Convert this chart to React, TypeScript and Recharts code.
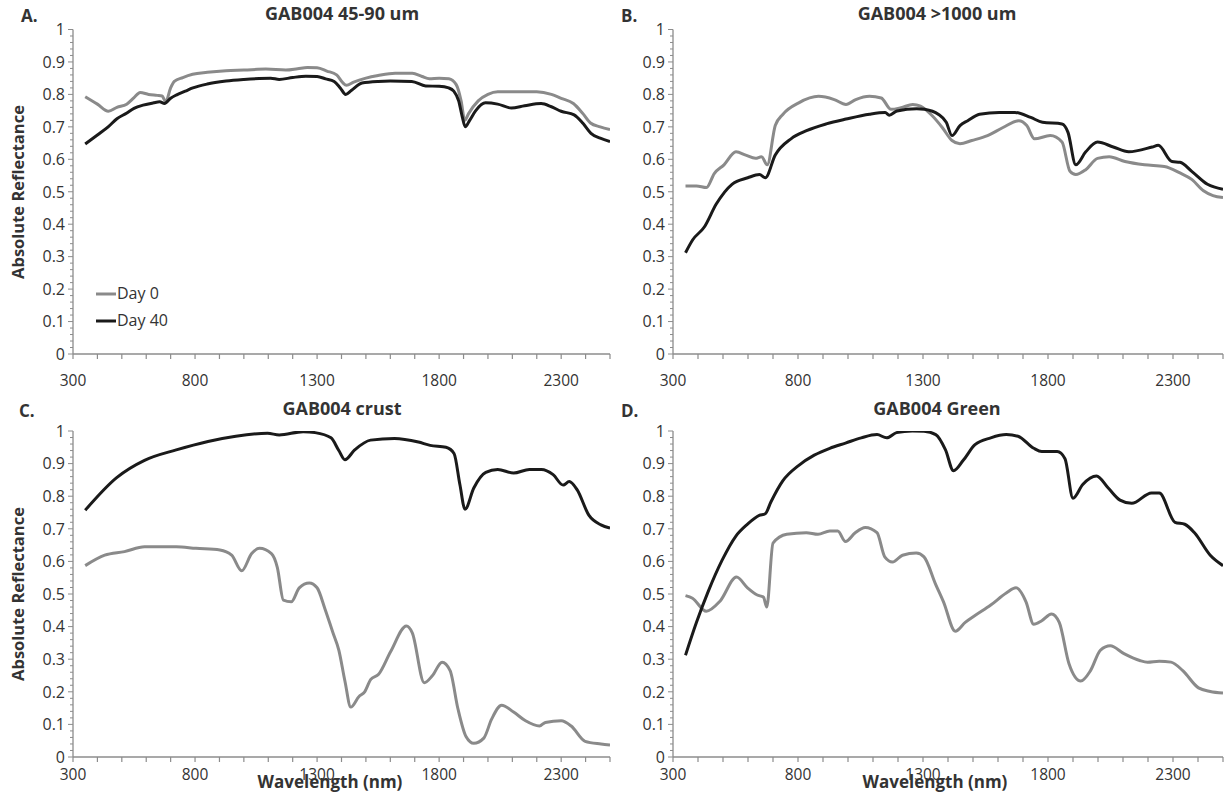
import React from 'react';
import { LineChart, Line, XAxis, YAxis, Legend } from 'recharts';

const FONT = '"Open Sans", "Liberation Sans", sans-serif';
const AXIS = '#8c8c8c';
const TEXT = '#333333';
const GRAY = '#8a8a8a';
const BLACK = '#1a1a1a';

const xTicks = [300, 400, 500, 600, 700, 800, 900, 1000, 1100, 1200, 1300, 1400, 1500, 1600, 1700, 1800, 1900, 2000, 2100, 2200, 2300, 2400, 2500];
const xLabels = [300, 800, 1300, 1800, 2300];
const yLabels = [0, 0.1, 0.2, 0.3, 0.4, 0.5, 0.6, 0.7, 0.8, 0.9, 1];
const yTicks = Array.from({ length: 51 }, (_, i) => i / 50);

const seriesNames = ['Day 0', 'Day 40'];

// Panel A: GAB004 45-90 um
const aDay0 = [[350,0.793],[400,0.77],[445,0.748],[480,0.76],[520,0.77],[550,0.79],[575,0.806],[610,0.8],[645,0.797],[665,0.795],[680,0.778],[700,0.82],[715,0.84],[750,0.852],[790,0.862],[850,0.868],[927,0.873],[1000,0.875],[1090,0.878],[1172,0.875],[1220,0.879],[1260,0.883],[1300,0.882],[1340,0.872],[1380,0.86],[1405,0.836],[1420,0.828],[1450,0.838],[1500,0.85],[1550,0.858],[1620,0.865],[1690,0.865],[1730,0.855],[1760,0.848],[1800,0.85],[1840,0.848],[1870,0.83],[1890,0.78],[1905,0.72],[1920,0.74],[1960,0.78],[2000,0.8],[2040,0.808],[2100,0.808],[2200,0.808],[2260,0.8],[2300,0.788],[2350,0.772],[2390,0.74],[2420,0.712],[2460,0.7],[2500,0.692]];
const aDay40 = [[350,0.647],[400,0.675],[444,0.7],[480,0.725],[519,0.742],[550,0.757],[587,0.767],[630,0.774],[655,0.777],[675,0.772],[700,0.788],[723,0.798],[760,0.81],[791,0.82],[850,0.832],[927,0.841],[1000,0.846],[1063,0.849],[1110,0.85],[1145,0.846],[1200,0.852],[1254,0.856],[1300,0.855],[1335,0.848],[1370,0.84],[1395,0.82],[1417,0.8],[1440,0.812],[1484,0.835],[1550,0.84],[1600,0.841],[1688,0.84],[1745,0.826],[1800,0.825],[1839,0.82],[1860,0.81],[1880,0.78],[1895,0.73],[1907,0.7],[1925,0.72],[1950,0.75],[1990,0.774],[2040,0.77],[2096,0.758],[2150,0.765],[2218,0.772],[2260,0.762],[2300,0.748],[2353,0.737],[2390,0.71],[2422,0.68],[2460,0.665],[2500,0.655]];

// Panel B: GAB004 >1000 um
const bDay0 = [[350,0.518],[394,0.518],[434,0.513],[465,0.556],[504,0.583],[552,0.623],[591,0.613],[630,0.603],[654,0.608],[677,0.583],[709,0.704],[740,0.739],[803,0.774],[882,0.794],[945,0.784],[992,0.769],[1031,0.784],[1086,0.794],[1133,0.789],[1172,0.754],[1212,0.759],[1259,0.769],[1290,0.764],[1337,0.734],[1377,0.698],[1416,0.658],[1448,0.648],[1495,0.658],[1558,0.673],[1620,0.698],[1683,0.719],[1715,0.704],[1746,0.663],[1809,0.673],[1856,0.653],[1888,0.563],[1911,0.553],[1951,0.568],[1998,0.603],[2045,0.608],[2108,0.593],[2186,0.583],[2265,0.578],[2328,0.558],[2375,0.538],[2422,0.503],[2460,0.488],[2500,0.482]];
const bDay40 = [[350,0.312],[379,0.352],[426,0.392],[473,0.462],[536,0.523],[599,0.543],[646,0.553],[669,0.543],[709,0.613],[772,0.663],[834,0.688],[913,0.709],[992,0.724],[1086,0.739],[1149,0.744],[1165,0.736],[1196,0.749],[1275,0.756],[1306,0.754],[1361,0.739],[1393,0.714],[1416,0.673],[1448,0.704],[1479,0.719],[1526,0.739],[1605,0.744],[1668,0.744],[1731,0.729],[1778,0.714],[1856,0.709],[1880,0.683],[1911,0.583],[1951,0.623],[1998,0.653],[2061,0.638],[2123,0.623],[2217,0.638],[2241,0.643],[2296,0.593],[2328,0.591],[2375,0.563],[2438,0.523],[2500,0.508]];

// Panel C: GAB004 crust
const cDay0 = [[350,0.587],[430,0.619],[511,0.63],[593,0.645],[723,0.645],[804,0.64],[902,0.635],[950,0.619],[991,0.571],[1032,0.624],[1064,0.64],[1113,0.624],[1137,0.582],[1162,0.481],[1194,0.476],[1227,0.519],[1268,0.534],[1300,0.519],[1332,0.455],[1365,0.381],[1389,0.328],[1414,0.233],[1438,0.153],[1471,0.185],[1495,0.2],[1520,0.238],[1552,0.254],[1601,0.323],[1666,0.402],[1690,0.381],[1739,0.228],[1772,0.249],[1812,0.291],[1845,0.265],[1877,0.148],[1910,0.063],[1942,0.042],[1983,0.058],[2015,0.116],[2056,0.159],[2105,0.138],[2154,0.111],[2211,0.095],[2235,0.106],[2300,0.111],[2341,0.095],[2398,0.048],[2463,0.04],[2500,0.037]];
const cDay40 = [[350,0.757],[479,0.857],[593,0.91],[723,0.942],[853,0.968],[967,0.984],[1097,0.993],[1145,0.988],[1243,0.998],[1292,0.995],[1357,0.979],[1389,0.94],[1414,0.912],[1454,0.942],[1519,0.972],[1617,0.977],[1715,0.966],[1763,0.956],[1828,0.95],[1861,0.931],[1885,0.836],[1906,0.76],[1942,0.825],[1991,0.873],[2040,0.882],[2105,0.871],[2170,0.882],[2219,0.882],[2267,0.866],[2308,0.834],[2333,0.845],[2365,0.82],[2414,0.741],[2463,0.712],[2500,0.702]];

// Panel D: GAB004 Green
const dDay0 = [[350,0.495],[378,0.487],[433,0.447],[488,0.478],[554,0.552],[598,0.519],[637,0.497],[662,0.49],[675,0.46],[700,0.656],[755,0.683],[833,0.688],[880,0.683],[927,0.693],[959,0.693],[990,0.661],[1029,0.688],[1069,0.704],[1116,0.688],[1147,0.614],[1178,0.598],[1218,0.619],[1273,0.626],[1304,0.614],[1351,0.529],[1382,0.476],[1429,0.386],[1469,0.413],[1508,0.434],[1571,0.466],[1633,0.503],[1672,0.519],[1712,0.476],[1743,0.407],[1775,0.418],[1814,0.439],[1845,0.413],[1884,0.286],[1931,0.233],[1970,0.265],[2010,0.328],[2049,0.341],[2104,0.317],[2167,0.296],[2198,0.291],[2245,0.294],[2292,0.291],[2339,0.265],[2402,0.212],[2449,0.201],[2500,0.196]];
const dDay40 = [[350,0.312],[394,0.413],[441,0.508],[496,0.603],[551,0.677],[598,0.714],[645,0.741],[669,0.746],[692,0.783],[739,0.847],[802,0.894],[865,0.926],[927,0.947],[990,0.963],[1053,0.979],[1116,0.989],[1155,0.979],[1194,0.995],[1257,1.0],[1304,0.999],[1351,0.989],[1390,0.942],[1422,0.878],[1461,0.91],[1508,0.958],[1571,0.979],[1633,0.989],[1680,0.984],[1743,0.947],[1775,0.937],[1837,0.937],[1868,0.915],[1900,0.794],[1939,0.836],[1994,0.862],[2041,0.825],[2088,0.788],[2135,0.778],[2214,0.81],[2245,0.81],[2308,0.72],[2347,0.714],[2386,0.688],[2449,0.619],[2500,0.587]];

const toRows = (pairs: number[][]) => pairs.map(([w, r]) => ({ w, r }));

const makeXTick = (labelDy: number) => (props: any) => {
  const { x, y, payload } = props;
  const v = payload.value;
  const show = xLabels.includes(v);
  return (
    <g>
      <line x1={x} x2={x} y1={y} y2={y + 5} stroke={AXIS} strokeWidth={1.2} />
      {show && (
        <text x={x} y={y + labelDy} textAnchor="middle" fontSize={15.5} fontFamily={FONT} fill={TEXT}>
          {v}
        </text>
      )}
    </g>
  );
};

const YTick = (props: any) => {
  const { x, y, payload } = props;
  const v = payload.value;
  const idx = Math.round(v * 50);
  const major = idx % 5 === 0;
  const label = yLabels.find((l) => Math.abs(l - v) < 1e-6);
  return (
    <g>
      <line x1={x - (major ? 5 : 3)} x2={x} y1={y} y2={y} stroke={AXIS} strokeWidth={1} />
      {major && label !== undefined && (
        <text x={x - 8} y={y} dy="0.36em" textAnchor="end" fontSize={16} fontFamily={FONT} fill={TEXT}>
          {String(label)}
        </text>
      )}
    </g>
  );
};

const LegendBox = () => (
  <div style={{ fontFamily: FONT, fontSize: 16, color: TEXT, lineHeight: '27px' }}>
    {seriesNames.map((n, i) => (
      <div key={n} style={{ display: 'flex', alignItems: 'center' }}>
        <svg width={20} height={6} style={{ marginRight: 1 }}>
          <line x1={0} x2={20} y1={3} y2={3} stroke={i === 0 ? GRAY : BLACK} strokeWidth={3} />
        </svg>
        <span>{n}</span>
      </div>
    ))}
  </div>
);

type PanelProps = {
  left: number;
  top: number;
  width: number;
  height: number;
  margin: { top: number; right: number; bottom: number; left: number };
  day0: number[][];
  day40: number[][];
  labelDy: number;
  legend?: boolean;
};

const Panel = ({ left, top, width, height, margin, day0, day40, labelDy, legend }: PanelProps) => {
  const XTick = makeXTick(labelDy);
  return (
    <div style={{ position: 'absolute', left, top, width, height }}>
      <LineChart width={width} height={height} margin={margin}>
        <XAxis
          type="number"
          dataKey="w"
          domain={[300, 2500]}
          ticks={xTicks}
          interval={0}
          tick={<XTick />}
          tickSize={0}
          tickMargin={0}
          tickLine={false}
          axisLine={{ stroke: AXIS, strokeWidth: 1.3 }}
          height={30}
          allowDataOverflow
        />
        <YAxis
          type="number"
          domain={[0, 1]}
          ticks={yTicks}
          interval={0}
          tick={<YTick />}
          tickSize={0}
          tickMargin={0}
          tickLine={false}
          axisLine={{ stroke: AXIS, strokeWidth: 1.3 }}
          width={40}
          allowDataOverflow
        />
        {legend && (
          <Legend
            layout="vertical"
            align="center"
            verticalAlign="middle"
            content={<LegendBox />}
            wrapperStyle={{ left: 96, top: 280, width: 100, height: 60 }}
          />
        )}
        <Line
          data={toRows(day0)}
          dataKey="r"
          name={seriesNames[0]}
          type="monotone"
          stroke={GRAY}
          strokeWidth={3}
          dot={false}
          isAnimationActive={false}
        />
        <Line
          data={toRows(day40)}
          dataKey="r"
          name={seriesNames[1]}
          type="monotone"
          stroke={BLACK}
          strokeWidth={3}
          dot={false}
          isAnimationActive={false}
        />
      </LineChart>
    </div>
  );
};

const abs = (left: number, top: number, extra: React.CSSProperties = {}): React.CSSProperties => ({
  position: 'absolute',
  left,
  top,
  fontFamily: FONT,
  color: TEXT,
  whiteSpace: 'nowrap',
  ...extra,
});

const Title = ({ cx, cy, text }: { cx: number; cy: number; text: string }) => (
  <div style={abs(cx - 150, cy - 12, { width: 300, textAlign: 'center', fontWeight: 700, fontSize: 18, lineHeight: '24px' })}>
    {text}
  </div>
);

const YLabel = ({ cx, cy }: { cx: number; cy: number }) => (
  <div
    style={abs(cx - 110, cy - 12, {
      width: 220,
      textAlign: 'center',
      fontWeight: 700,
      fontSize: 16.5,
      lineHeight: '24px',
      transform: 'rotate(-90deg)',
    })}
  >
    Absolute Reflectance
  </div>
);

const XLabel = ({ cx, cy }: { cx: number; cy: number }) => (
  <div style={abs(cx - 110, cy - 10, { width: 220, textAlign: 'center', fontWeight: 700, fontSize: 17, lineHeight: '20px' })}>
    Wavelength (nm)
  </div>
);

const Letter = ({ x, cy, text }: { x: number; cy: number; text: string }) => (
  <div style={abs(x, cy - 12, { fontWeight: 700, fontSize: 17, lineHeight: '24px' })}>{text}</div>
);

export default function App() {
  return (
    <div style={{ position: 'absolute', left: 0, top: 0, width: 1226, height: 794, background: '#fff', overflow: 'hidden' }}>
      <Panel left={0} top={0} width={620} height={400} margin={{ top: 29.5, right: 10, bottom: 16, left: 33 }} day0={aDay0} day40={aDay40} labelDy={32} legend />
      <Panel left={620} top={0} width={606} height={400} margin={{ top: 29.5, right: 3, bottom: 16, left: 13 }} day0={bDay0} day40={bDay40} labelDy={32} />
      <Panel left={0} top={400} width={620} height={394} margin={{ top: 31, right: 10, bottom: 7, left: 33 }} day0={cDay0} day40={cDay40} labelDy={23} />
      <Panel left={620} top={400} width={606} height={394} margin={{ top: 31, right: 3, bottom: 7, left: 13 }} day0={dDay0} day40={dDay40} labelDy={23} />

      <Title cx={342} cy={13} text="GAB004 45-90 um" />
      <Title cx={937} cy={13} text="GAB004 >1000 um" />
      <Title cx={342} cy={408} text="GAB004 crust" />
      <Title cx={937} cy={408} text="GAB004 Green" />

      <Letter x={21} cy={16} text="A." />
      <Letter x={621} cy={16} text="B." />
      <Letter x={19} cy={411} text="C." />
      <Letter x={621} cy={411} text="D." />

      <YLabel cx={18} cy={192} />
      <YLabel cx={18} cy={594} />

      <XLabel cx={330} cy={782} />
      <XLabel cx={935} cy={782} />
    </div>
  );
}
